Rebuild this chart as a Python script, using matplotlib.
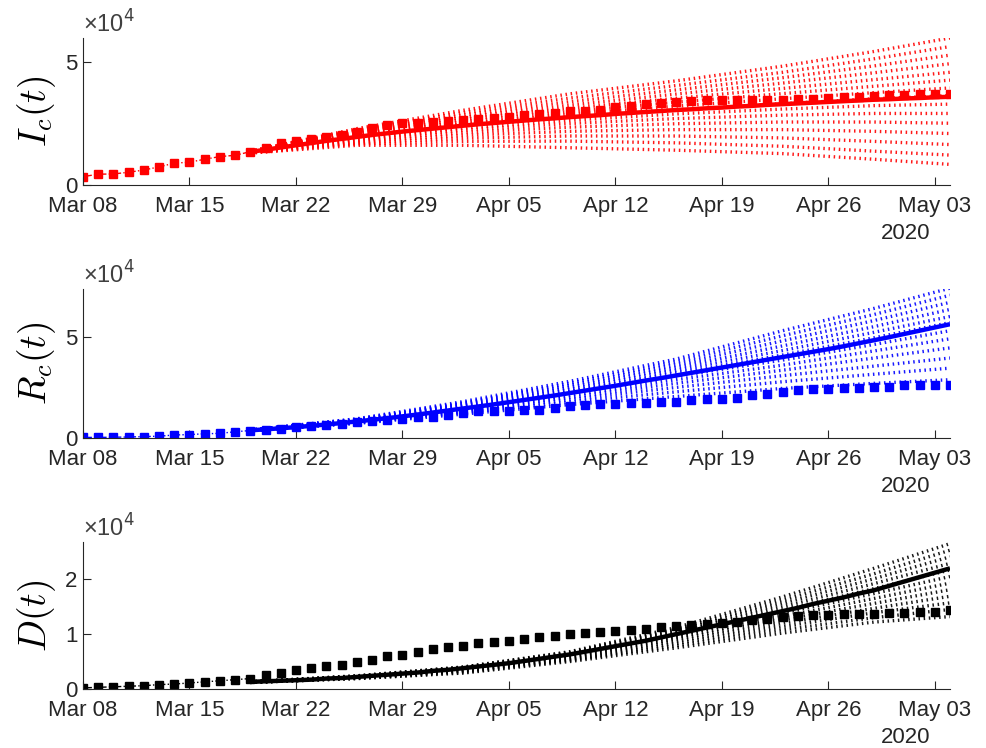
import matplotlib
matplotlib.use("Agg")
import matplotlib.pyplot as plt
import matplotlib.dates as mdates
from datetime import datetime, timedelta

# ---- data (values in units of 1e4) ----
start = datetime(2020, 3, 8)
dates = [start + timedelta(days=i) for i in range(58)]
fit_start = 11           # model curves start on Mar 19
calib_end = 12           # dash-dot segment through the first observations

ic_obs = [0.34, 0.44, 0.45, 0.52, 0.61, 0.74, 0.89, 0.93, 1.05, 1.16, 1.21, 1.36,
          1.50, 1.72, 1.78, 1.88, 1.96, 2.04, 2.18, 2.34, 2.44, 2.52, 2.54, 2.56,
          2.60, 2.65, 2.70, 2.74, 2.79, 2.84, 2.89, 2.95, 3.00, 3.04, 3.08, 3.17,
          3.22, 3.29, 3.33, 3.38, 3.42, 3.46, 3.48, 3.47, 3.47, 3.47, 3.48, 3.50,
          3.52, 3.54, 3.58, 3.60, 3.64, 3.67, 3.69, 3.70, 3.71, 3.72]
rc_obs = [0.03, 0.03, 0.04, 0.05, 0.07, 0.09, 0.15, 0.17, 0.21, 0.23, 0.31, 0.37,
          0.42, 0.47, 0.54, 0.59, 0.66, 0.71, 0.78, 0.84, 0.91, 0.96, 1.04, 1.05,
          1.12, 1.24, 1.32, 1.33, 1.34, 1.37, 1.40, 1.49, 1.57, 1.62, 1.67, 1.67,
          1.73, 1.74, 1.78, 1.79, 1.87, 1.92, 1.93, 2.00, 2.11, 2.16, 2.28, 2.36,
          2.41, 2.42, 2.45, 2.49, 2.50, 2.53, 2.60, 2.61, 2.61, 2.62]
d_obs = [0.02, 0.03, 0.04, 0.05, 0.06, 0.08, 0.09, 0.11, 0.13, 0.15, 0.17, 0.19,
         0.25, 0.29, 0.35, 0.38, 0.41, 0.44, 0.50, 0.53, 0.60, 0.62, 0.68, 0.72,
         0.77, 0.79, 0.83, 0.86, 0.88, 0.92, 0.94, 0.97, 1.00, 1.02, 1.04, 1.06,
         1.08, 1.10, 1.13, 1.15, 1.16, 1.19, 1.21, 1.22, 1.25, 1.28, 1.31, 1.33,
         1.35, 1.35, 1.36, 1.36, 1.37, 1.38, 1.39, 1.40, 1.41, 1.44]

# model mean, Mar 19 .. May 04
ic_mean = [1.35, 1.44, 1.53, 1.62, 1.71, 1.80, 1.88, 1.96, 2.04, 2.11, 2.18, 2.24,
           2.30, 2.36, 2.42, 2.48, 2.53, 2.58, 2.63, 2.68, 2.72, 2.77, 2.81, 2.85,
           2.90, 2.94, 2.98, 3.02, 3.06, 3.09, 3.13, 3.16, 3.20, 3.23, 3.27, 3.30,
           3.33, 3.36, 3.39, 3.42, 3.45, 3.48, 3.50, 3.53, 3.55, 3.58, 3.60]
rc_mean = [0.38, 0.43, 0.48, 0.54, 0.60, 0.67, 0.74, 0.82, 0.90, 0.98, 1.07, 1.16,
           1.26, 1.36, 1.46, 1.56, 1.66, 1.77, 1.88, 1.99, 2.10, 2.22, 2.34, 2.46,
           2.58, 2.71, 2.84, 2.96, 3.09, 3.22, 3.35, 3.48, 3.61, 3.74, 3.87, 4.00,
           4.13, 4.26, 4.39, 4.53, 4.68, 4.83, 4.98, 5.14, 5.30, 5.46, 5.62]
d_mean = [0.13, 0.14, 0.15, 0.16, 0.17, 0.19, 0.20, 0.22, 0.24, 0.26, 0.28, 0.30,
          0.33, 0.35, 0.38, 0.41, 0.44, 0.47, 0.51, 0.55, 0.59, 0.63, 0.68, 0.73,
          0.78, 0.83, 0.88, 0.94, 1.00, 1.06, 1.12, 1.18, 1.24, 1.30, 1.36, 1.42,
          1.48, 1.55, 1.61, 1.67, 1.74, 1.80, 1.88, 1.96, 2.04, 2.12, 2.20]

# ensemble members sampled on these days (offset from Mar 08)
knot_days = [11, 18, 25, 32, 39, 46, 52, 57]
ic_ens = [
    [1.38, 2.30, 3.05, 3.72, 4.25, 4.85, 5.45, 6.00],
    [1.38, 2.25, 2.95, 3.55, 4.06, 4.60, 5.15, 5.65],
    [1.37, 2.20, 2.85, 3.40, 3.88, 4.38, 4.86, 5.30],
    [1.37, 2.15, 2.76, 3.26, 3.71, 4.16, 4.58, 4.95],
    [1.36, 2.10, 2.67, 3.13, 3.54, 3.94, 4.30, 4.60],
    [1.36, 2.05, 2.58, 3.00, 3.38, 3.73, 4.03, 4.28],
    [1.35, 2.00, 2.49, 2.88, 3.22, 3.52, 3.77, 3.96],
    [1.35, 1.96, 2.41, 2.77, 3.07, 3.32, 3.52, 3.65],
    [1.34, 1.91, 2.32, 2.64, 2.90, 3.10, 3.24, 3.30],
    [1.34, 1.87, 2.24, 2.51, 2.71, 2.85, 2.92, 2.92],
    [1.33, 1.82, 2.14, 2.36, 2.50, 2.57, 2.57, 2.52],
    [1.33, 1.77, 2.03, 2.19, 2.26, 2.26, 2.19, 2.10],
    [1.32, 1.72, 1.91, 2.00, 2.00, 1.92, 1.78, 1.65],
    [1.31, 1.67, 1.78, 1.79, 1.72, 1.58, 1.38, 1.22],
    [1.30, 1.62, 1.62, 1.52, 1.42, 1.28, 1.05, 0.84],
]
rc_ens = [
    [0.40, 0.95, 1.80, 2.80, 3.90, 5.30, 6.40, 7.40],
    [0.40, 0.93, 1.74, 2.70, 3.76, 5.05, 6.10, 7.05],
    [0.39, 0.91, 1.68, 2.60, 3.62, 4.80, 5.80, 6.70],
    [0.39, 0.89, 1.62, 2.50, 3.48, 4.55, 5.50, 6.35],
    [0.39, 0.87, 1.57, 2.40, 3.34, 4.32, 5.22, 6.00],
    [0.38, 0.84, 1.51, 2.30, 3.20, 4.10, 4.95, 5.70],
    [0.38, 0.82, 1.46, 2.20, 3.05, 3.85, 4.62, 5.30],
    [0.38, 0.80, 1.41, 2.10, 2.88, 3.60, 4.30, 4.90],
    [0.37, 0.78, 1.36, 2.00, 2.70, 3.35, 3.95, 4.45],
    [0.37, 0.76, 1.30, 1.90, 2.50, 3.08, 3.55, 3.95],
    [0.37, 0.74, 1.24, 1.78, 2.28, 2.78, 3.15, 3.45],
    [0.36, 0.72, 1.18, 1.65, 2.05, 2.45, 2.70, 2.88],
]
d_ens = [
    [0.13, 0.24, 0.40, 0.68, 1.12, 1.68, 2.20, 2.65],
    [0.13, 0.24, 0.40, 0.67, 1.09, 1.62, 2.10, 2.53],
    [0.13, 0.23, 0.39, 0.66, 1.06, 1.56, 2.01, 2.41],
    [0.13, 0.23, 0.38, 0.64, 1.03, 1.50, 1.92, 2.29],
    [0.13, 0.22, 0.37, 0.63, 1.00, 1.44, 1.83, 2.17],
    [0.13, 0.22, 0.36, 0.61, 0.97, 1.38, 1.74, 2.05],
    [0.12, 0.21, 0.35, 0.60, 0.94, 1.32, 1.65, 1.93],
    [0.12, 0.21, 0.34, 0.58, 0.91, 1.26, 1.56, 1.81],
    [0.12, 0.20, 0.33, 0.56, 0.87, 1.20, 1.47, 1.69],
    [0.12, 0.20, 0.32, 0.54, 0.83, 1.14, 1.39, 1.57],
    [0.12, 0.19, 0.30, 0.52, 0.79, 1.08, 1.30, 1.45],
    [0.12, 0.19, 0.29, 0.50, 0.75, 1.02, 1.22, 1.32],
]

panels = [
    (r"$I_c(t)$", "red", ic_obs, ic_mean, ic_ens, 6.0, [0, 5], ["0", "5"]),
    (r"$R_c(t)$", "blue", rc_obs, rc_mean, rc_ens, 7.35, [0, 5], ["0", "5"]),
    (r"$D(t)$", "black", d_obs, d_mean, d_ens, 2.68, [0, 1, 2], ["0", "1", "2"]),
]

plt.rcParams["font.family"] = ["Liberation Sans", "DejaVu Sans"]
axis_col = "#262626"

fig = plt.figure(figsize=(9.87, 7.48), dpi=100)
bottoms = [0.7527, 0.4144, 0.0789]
heights = [0.1965, 0.199, 0.1965]

knot_dates = [start + timedelta(days=d) for d in knot_days]
fit_dates = dates[fit_start:]
week_ticks = [start + timedelta(days=7 * k) for k in range(9)]

for (lab, col, obs, mean, ens, ytop, yt, ytl), b, h in zip(panels, bottoms, heights):
    ax = fig.add_axes([0.0841, b, 0.8784, h])

    # ensemble of projections: short thick dashes give the hatched look
    for member in ens:
        ax.plot(knot_dates, member, color=col, lw=2.4, dashes=(0.45, 1.1),
                dash_capstyle="butt", alpha=0.9)
    ax.plot(dates[:calib_end], obs[:calib_end], color=col, lw=1.0, ls="-.")
    ax.plot(fit_dates, mean, color=col, lw=3.2, solid_capstyle="butt")
    ax.plot(dates, obs, ls="none", marker="s", ms=5.8, color=col, mec=col)

    ax.set_xlim(dates[0], dates[-1])
    ax.set_ylim(0, ytop)
    ax.set_yticks(yt)
    ax.set_yticklabels(ytl)
    ax.set_xticks(week_ticks)
    ax.xaxis.set_major_formatter(mdates.DateFormatter("%b %d"))

    for s in ["top", "right"]:
        ax.spines[s].set_visible(False)
    for s in ["left", "bottom"]:
        ax.spines[s].set_color(axis_col)
        ax.spines[s].set_linewidth(0.8)
    ax.tick_params(direction="in", length=6, width=0.8, color=axis_col,
                   labelcolor=axis_col, labelsize=16)
    ax.tick_params(axis="x", pad=8)
    ax.tick_params(axis="y", pad=4)

    ax.set_ylabel(lab, fontsize=27, math_fontfamily="cm", color="black")
    ax.yaxis.set_label_coords(-0.029, 0.5)

    ax.text(0.0, 1.005, "×10$^4$", transform=ax.transAxes, ha="left", va="bottom",
            fontsize=17, color="#404040")
    ax.annotate("2020", xy=(0.949, 0), xycoords="axes fraction",
                xytext=(0, -35), textcoords="offset points",
                ha="center", va="center", fontsize=16, color=axis_col)

fig.savefig("out.png", dpi=100, facecolor="white")
